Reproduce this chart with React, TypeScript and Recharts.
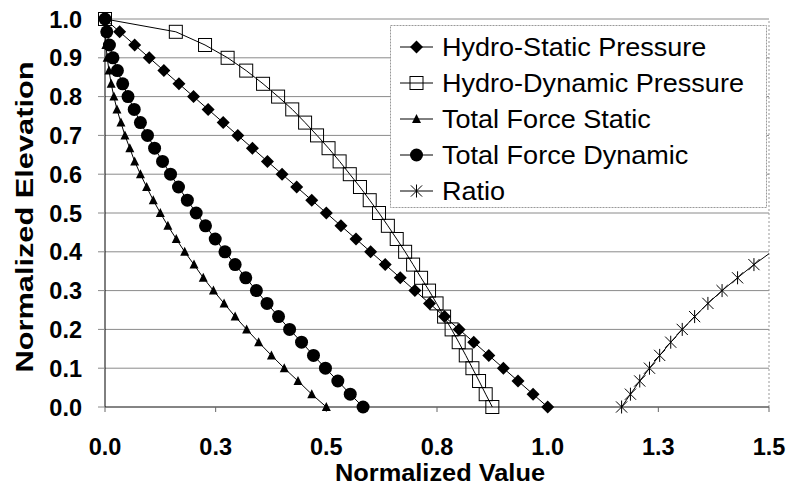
import React from 'react';
import { ScatterChart, Scatter, XAxis, YAxis, CartesianGrid, Legend, Label, ReferenceLine } from 'recharts';

// elevation steps (normalized), top to bottom
const elevation = [1.0, 0.967, 0.933, 0.9, 0.867, 0.833, 0.8, 0.767, 0.733, 0.7, 0.667, 0.633, 0.6, 0.567, 0.533, 0.5, 0.467, 0.433, 0.4, 0.367, 0.333, 0.3, 0.267, 0.233, 0.2, 0.167, 0.133, 0.1, 0.067, 0.033, 0.0];
const hydroStatic = [0, 0.033, 0.067, 0.1, 0.133, 0.167, 0.2, 0.233, 0.267, 0.3, 0.333, 0.367, 0.4, 0.433, 0.467, 0.5, 0.533, 0.567, 0.6, 0.633, 0.667, 0.7, 0.733, 0.767, 0.8, 0.833, 0.867, 0.9, 0.933, 0.967, 1.0];
const hydroDynamic = [0, 0.16, 0.226, 0.277, 0.319, 0.357, 0.391, 0.423, 0.452, 0.479, 0.505, 0.53, 0.553, 0.576, 0.598, 0.619, 0.639, 0.659, 0.678, 0.696, 0.714, 0.732, 0.749, 0.766, 0.783, 0.799, 0.815, 0.83, 0.845, 0.86, 0.875];
const forceStatic = [0, 0.001, 0.002, 0.005, 0.009, 0.014, 0.02, 0.027, 0.036, 0.045, 0.056, 0.067, 0.08, 0.094, 0.109, 0.125, 0.142, 0.161, 0.18, 0.201, 0.222, 0.245, 0.269, 0.294, 0.32, 0.347, 0.376, 0.405, 0.436, 0.467, 0.5];
const forceDynamic = [0, 0.004, 0.01, 0.018, 0.028, 0.04, 0.052, 0.066, 0.08, 0.096, 0.112, 0.13, 0.148, 0.166, 0.186, 0.206, 0.227, 0.249, 0.271, 0.294, 0.318, 0.342, 0.366, 0.392, 0.417, 0.444, 0.471, 0.498, 0.526, 0.554, 0.583];

const ratioElevation = [0.0, 0.033, 0.067, 0.1, 0.133, 0.167, 0.2, 0.233, 0.267, 0.3, 0.333, 0.367, 0.4];
const ratio = [1.167, 1.187, 1.208, 1.23, 1.253, 1.278, 1.304, 1.332, 1.362, 1.394, 1.429, 1.466, 1.506];

const xTicks = [0, 0.25, 0.5, 0.75, 1, 1.25, 1.5];
const yTicks = [0, 0.1, 0.2, 0.3, 0.4, 0.5, 0.6, 0.7, 0.8, 0.9, 1.0];

const toPoints = (xs: number[], ys: number[]) => xs.map((x, i) => ({ x, y: ys[i] }));

const FONT = '"Liberation Sans", Arial, Helvetica, sans-serif';

// markers
const diamond = (cx: number, cy: number) => (
  <path d={`M${cx},${cy - 6.5}L${cx + 6.5},${cy}L${cx},${cy + 6.5}L${cx - 6.5},${cy}Z`} fill="#000" />
);
const square = (cx: number, cy: number) => (
  <rect x={cx - 6.5} y={cy - 6.5} width={13} height={13} fill="none" stroke="#000" strokeWidth={1} />
);
const triangle = (cx: number, cy: number) => (
  <path d={`M${cx},${cy - 5}L${cx + 4.5},${cy + 4}L${cx - 4.5},${cy + 4}Z`} fill="#000" />
);
const circle = (cx: number, cy: number) => <circle cx={cx} cy={cy} r={6.5} fill="#000" />;
const star = (cx: number, cy: number) => (
  <path
    d={`M${cx},${cy - 6.5}L${cx},${cy + 6.5}M${cx - 5.6},${cy - 5.6}L${cx + 5.6},${cy + 5.6}M${cx - 5.6},${cy + 5.6}L${cx + 5.6},${cy - 5.6}`}
    stroke="#000"
    strokeWidth={1}
    fill="none"
  />
);

const series = [
  { name: 'Hydro-Static Pressure', data: toPoints(hydroStatic, elevation), marker: diamond },
  { name: 'Hydro-Dynamic Pressure', data: toPoints(hydroDynamic, elevation), marker: square },
  { name: 'Total Force Static', data: toPoints(forceStatic, elevation), marker: triangle },
  { name: 'Total Force Dynamic', data: toPoints(forceDynamic, elevation), marker: circle },
  { name: 'Ratio', data: toPoints(ratio, ratioElevation), marker: star },
];

const XTick = (props: any) => {
  const { x, y, payload } = props;
  return (
    <text x={x} y={y} dy={18} textAnchor="middle" fontSize={23.5} fontWeight="bold" fontFamily={FONT} fill="#000">
      {Number(payload.value).toFixed(1)}
    </text>
  );
};

const YTick = (props: any) => {
  const { x, y, payload } = props;
  return (
    <text x={x} y={y} dy={8.5} textAnchor="end" fontSize={23.5} fontWeight="bold" fontFamily={FONT} fill="#000">
      {Number(payload.value).toFixed(1)}
    </text>
  );
};

const XTitle = (props: any) => {
  const vb = props.viewBox;
  return (
    <text x={vb.x + vb.width / 2 + 3} y={vb.y + 74} textAnchor="middle" fontSize={23} fontWeight="bold"
      fontFamily={FONT} textLength={210} lengthAdjust="spacingAndGlyphs" fill="#000">
      Normalized Value
    </text>
  );
};

const YTitle = (props: any) => {
  const vb = props.viewBox;
  const cy = vb.y + vb.height / 2 + 4;
  return (
    <text x={33} y={cy} transform={`rotate(-90, 33, ${cy})`} textAnchor="middle" fontSize={24} fontWeight="bold"
      fontFamily={FONT} textLength={311} lengthAdjust="spacingAndGlyphs" fill="#000">
      Normalized Elevation
    </text>
  );
};

const LegendBox = () => (
  <svg width={377} height={183} style={{ display: 'block' }}>
    <rect x={0.5} y={0.5} width={376} height={182} fill="#fff" stroke="#999" strokeWidth={1} strokeDasharray="2 1" />
    {series.map((s, i) => {
      const cy = 22 + i * 36;
      return (
        <g key={s.name}>
          <line x1={10} x2={43} y1={cy} y2={cy} stroke="#000" strokeWidth={1} />
          {s.marker(26.5, cy)}
          <text transform={`translate(52, ${cy + 8.5}) scale(1.04, 1)`} fontSize={26} fontFamily={FONT} fill="#000">
            {s.name}
          </text>
        </g>
      );
    })}
  </svg>
);

export default function App() {
  return (
    <div style={{ position: 'absolute', left: 0, top: 0, background: '#fff' }}>
      <ScatterChart width={791} height={485} margin={{ top: 19, right: 22, bottom: 0, left: 0 }}>
        <CartesianGrid horizontal vertical={false} stroke="#8a8a8a" strokeWidth={1} />
        <XAxis
          type="number"
          dataKey="x"
          domain={[0, 1.5]}
          ticks={xTicks}
          height={78}
          tick={<XTick />}
          tickSize={5}
          tickMargin={25}
          axisLine={{ stroke: '#444' }}
          tickLine={{ stroke: '#666' }}
        >
          <Label content={<XTitle />} />
        </XAxis>
        <XAxis xAxisId="ratio" type="number" dataKey="x" domain={[0, 1.5]} allowDataOverflow hide />
        <YAxis
          type="number"
          dataKey="y"
          domain={[0, 1]}
          ticks={yTicks}
          width={105}
          tick={<YTick />}
          tickSize={7}
          tickMargin={16}
          axisLine={{ stroke: '#000' }}
          tickLine={{ stroke: '#888' }}
        >
          <Label content={<YTitle />} />
        </YAxis>
        <ReferenceLine x={1.5} stroke="#999" strokeDasharray="2 2" />
        {series.map((s) => (
          <Scatter
            key={s.name}
            name={s.name}
            data={s.data}
            xAxisId={s.name === 'Ratio' ? 'ratio' : 0}
            line={{ stroke: '#000', strokeWidth: 1 }}
            lineType="joint"
            isAnimationActive={false}
            shape={(p: any) => (p.payload && p.payload.x > 1.5 ? <g /> : s.marker(p.cx, p.cy))}
          />
        ))}
        <Legend
          layout="vertical"
          verticalAlign="middle"
          align="center"
          content={<LegendBox />}
          wrapperStyle={{ left: 390, top: 25, width: 377, height: 183 }}
        />
      </ScatterChart>
    </div>
  );
}
